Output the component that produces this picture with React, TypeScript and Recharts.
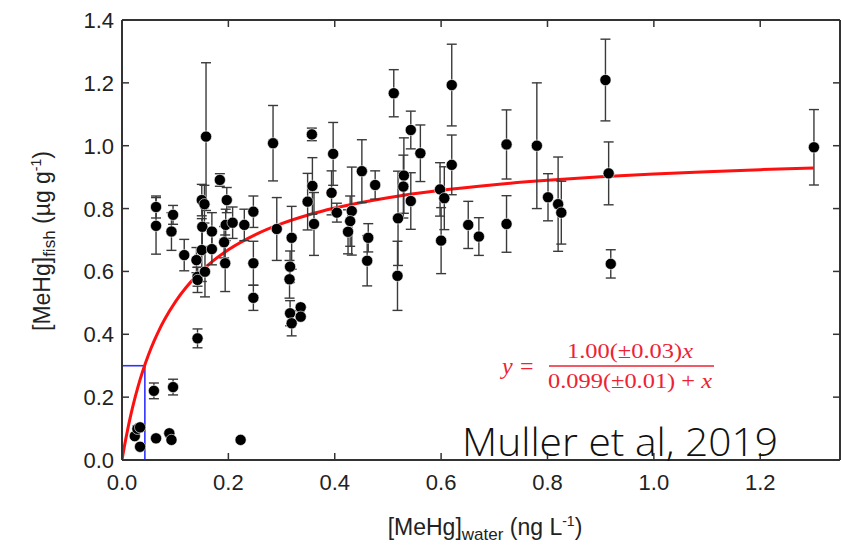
import React from 'react';
import { ComposedChart, Scatter, Line, XAxis, YAxis, ErrorBar, ReferenceLine } from 'recharts';

// [MeHg]water (ng/L)
const waterMeHg = [
  0.024, 0.029, 0.034, 0.034, 0.060, 0.064, 0.089, 0.093, 0.096, 0.223,
  0.064, 0.064, 0.096, 0.093, 0.117, 0.140, 0.142, 0.142, 0.142, 0.150,
  0.155, 0.151, 0.150, 0.156, 0.158, 0.169, 0.169, 0.184, 0.192, 0.194,
  0.197, 0.195, 0.208, 0.230, 0.247, 0.247, 0.247, 0.284, 0.291,
  0.319, 0.316, 0.315, 0.316, 0.319, 0.336, 0.336, 0.349, 0.357, 0.358,
  0.361, 0.397, 0.394, 0.404, 0.432, 0.429, 0.425, 0.451, 0.476, 0.463,
  0.461, 0.511, 0.543, 0.561, 0.530, 0.529, 0.543, 0.519, 0.518, 0.620,
  0.620, 0.598, 0.606, 0.600, 0.651, 0.671, 0.723, 0.723, 0.780, 0.801,
  0.820, 0.826, 0.909, 0.915, 0.919, 1.301,
];
// [MeHg]fish (ug/g)
const fishMeHg = [
  0.076, 0.099, 0.104, 0.042, 0.220, 0.069, 0.085, 0.064, 0.232, 0.064,
  0.805, 0.745, 0.780, 0.727, 0.652, 0.636, 0.583, 0.573, 0.387, 0.827,
  0.814, 0.742, 0.668, 0.599, 1.029, 0.727, 0.671, 0.891, 0.693, 0.626,
  0.827, 0.748, 0.755, 0.748, 0.790, 0.626, 0.516, 1.008, 0.735,
  0.707, 0.615, 0.575, 0.467, 0.435, 0.486, 0.456, 0.822, 1.036, 0.872,
  0.751, 0.974, 0.850, 0.787, 0.792, 0.760, 0.726, 0.919, 0.875, 0.707,
  0.634, 1.167, 1.050, 0.976, 0.905, 0.870, 0.824, 0.769, 0.586, 1.193,
  0.939, 0.861, 0.833, 0.698, 0.748, 0.711, 1.004, 0.751, 1.000, 0.836,
  0.814, 0.787, 1.209, 0.912, 0.624, 0.995,
];
// standard deviation of fish MeHg
const fishErr = [
  0, 0.01, 0.01, 0, 0.025, 0, 0, 0, 0.025, 0,
  0.035, 0.09, 0.03, 0.06, 0.05, 0.04, 0.03, 0.04, 0.03, 0.05,
  0.06, 0.08, 0.1, 0.08, 0.235, 0.06, 0.05, 0.02, 0.05, 0.09,
  0.04, 0.05, 0.05, 0.05, 0.05, 0.07, 0.04, 0.12, 0.1,
  0.1, 0.05, 0.06, 0.04, 0.04, 0, 0, 0.09, 0.02, 0.09,
  0.1, 0.1, 0.07, 0.03, 0.14, 0.08, 0.07, 0.1, 0.045, 0.045,
  0.08, 0.075, 0.06, 0.09, 0.12, 0.1, 0.09, 0.15, 0.11, 0.13,
  0.095, 0.085, 0.1, 0.105, 0.075, 0.06, 0.11, 0.09, 0.2, 0.075,
  0.15, 0.1, 0.13, 0.1, 0.045, 0.12,
];

// fitted Michaelis-Menten curve
const fitWater = [0, 0.005, 0.01, 0.015, 0.02, 0.03, 0.04, 0.05, 0.06, 0.07, 0.08, 0.1, 0.12, 0.14, 0.17, 0.2, 0.25, 0.3, 0.35, 0.4, 0.5, 0.6, 0.7, 0.8, 0.9, 1.0, 1.1, 1.2, 1.3];
const fitFish = [0, 0.0481, 0.0917, 0.1316, 0.168, 0.2326, 0.2878, 0.3356, 0.3774, 0.4142, 0.4469, 0.5025, 0.5479, 0.5858, 0.632, 0.6689, 0.7163, 0.7519, 0.7795, 0.8016, 0.8347, 0.8584, 0.8761, 0.8899, 0.9009, 0.9099, 0.9174, 0.9238, 0.9292];

// blue box marking 0.3 ug/g
const boxCorner = { x: 0.043, y: 0.3 };

const xTicks = [0, 0.2, 0.4, 0.6, 0.8, 1.0, 1.2];
const yTicks = [0, 0.2, 0.4, 0.6, 0.8, 1.0, 1.2, 1.4];

const points = waterMeHg.map((x, i) => ({ x, y: fishMeHg[i], err: fishErr[i] }));
const fit = fitWater.map((x, i) => ({ x, y: fitFish[i] }));

const AX = '#333';
const FONT = "'Liberation Sans', Arial, sans-serif";

const BottomTick = (p: any) => (
  <g>
    <line x1={p.x} x2={p.x} y1={p.y} y2={p.y - 7} stroke={AX} strokeWidth={1.5} />
    <text x={p.x} y={p.y + 30} textAnchor="middle" fontSize={22} fontFamily={FONT} fill="#222">
      {Number(p.payload.value).toFixed(1)}
    </text>
  </g>
);
const TopTick = (p: any) => (
  <line x1={p.x} x2={p.x} y1={p.y} y2={p.y + 7} stroke={AX} strokeWidth={1.5} />
);
const LeftTick = (p: any) => (
  <g>
    <line x1={p.x} x2={p.x + 7} y1={p.y} y2={p.y} stroke={AX} strokeWidth={1.5} />
    <text x={p.x - 8} y={p.y + 8} textAnchor="end" fontSize={22} fontFamily={FONT} fill="#222">
      {Number(p.payload.value).toFixed(1)}
    </text>
  </g>
);
const RightTick = (p: any) => (
  <line x1={p.x} x2={p.x - 7} y1={p.y} y2={p.y} stroke={AX} strokeWidth={1.5} />
);

const Dot = (p: any) => (
  <circle cx={p.cx} cy={p.cy} r={5.6} fill="#000" stroke="#fff" strokeWidth={0.6} />
);

const RED = '#ee2233';
const SERIF = "'Liberation Serif', 'DejaVu Serif', serif";

export default function App() {
  const axisLine = { stroke: AX, strokeWidth: 2 };
  return (
    <div style={{ position: 'absolute', left: 0, top: 0, width: 842, height: 547, background: '#fff' }}>
      <ComposedChart width={842} height={547} margin={{ top: 19, right: 1, bottom: 86, left: 121 }}>
        <XAxis xAxisId="b" dataKey="x" type="number" domain={[0, 1.35]} ticks={xTicks} orientation="bottom"
          height={1} tickSize={0} tickMargin={0} tickLine={false} axisLine={axisLine} tick={<BottomTick />} allowDataOverflow />
        <XAxis xAxisId="t" dataKey="x" type="number" domain={[0, 1.35]} ticks={xTicks} orientation="top"
          height={1} tickSize={0} tickMargin={0} tickLine={false} axisLine={axisLine} tick={<TopTick />} allowDataOverflow />
        <YAxis yAxisId="l" dataKey="y" type="number" domain={[0, 1.4]} ticks={yTicks} orientation="left"
          width={1} tickSize={0} tickMargin={0} tickLine={false} axisLine={axisLine} tick={<LeftTick />} allowDataOverflow />
        <YAxis yAxisId="r" dataKey="y" type="number" domain={[0, 1.4]} ticks={yTicks} orientation="right"
          width={1} tickSize={0} tickMargin={0} tickLine={false} axisLine={axisLine} tick={<RightTick />} allowDataOverflow />
        <ReferenceLine xAxisId="b" yAxisId="l" segment={[{ x: 0, y: boxCorner.y }, { x: boxCorner.x, y: boxCorner.y }]} stroke="#3030ff" strokeWidth={1.6} />
        <ReferenceLine xAxisId="b" yAxisId="l" segment={[{ x: boxCorner.x, y: 0 }, { x: boxCorner.x, y: boxCorner.y }]} stroke="#3030ff" strokeWidth={1.6} />
        <Line xAxisId="b" yAxisId="l" data={fit} dataKey="y" type="monotone" dot={false} stroke="#ff1010" strokeWidth={3} isAnimationActive={false} />
        <Scatter xAxisId="b" yAxisId="l" data={points} dataKey="y" shape={<Dot />} isAnimationActive={false}>
          <ErrorBar dataKey="err" direction="y" width={5} stroke="#3a3a3a" strokeWidth={1.4} />
        </Scatter>
      </ComposedChart>
      <svg width={842} height={547} style={{ position: 'absolute', left: 0, top: 0, pointerEvents: 'none' }}>
        <text transform="translate(50,241) rotate(-90)" textAnchor="middle" fontFamily={FONT} fontSize={23} fill="#222">
          [MeHg]<tspan fontSize={17} dy={5}>fish</tspan><tspan dy={-5}> (µg g</tspan><tspan fontSize={14} dy={-9}>-1</tspan><tspan dy={9}>)</tspan>
        </text>
        <text x={485} y={535} textAnchor="middle" fontFamily={FONT} fontSize={23} fill="#222">
          [MeHg]<tspan fontSize={17} dy={5}>water</tspan><tspan dy={-5}> (ng L</tspan><tspan fontSize={14} dy={-9}>-1</tspan><tspan dy={9}>)</tspan>
        </text>
        <text x={502} y={374} fontFamily={SERIF} fontSize={24} fill={RED} fontStyle="italic">y</text>
        <text x={520} y={374} fontFamily={SERIF} fontSize={24} fill={RED}>=</text>
        <text x={567} y={358} fontFamily={SERIF} fontSize={20} fill={RED} textLength={126} lengthAdjust="spacingAndGlyphs">
          1.00(±0.03)<tspan fontStyle="italic">x</tspan>
        </text>
        <line x1={549} x2={714} y1={366} y2={366} stroke={RED} strokeWidth={1.3} />
        <text x={548} y={388} fontFamily={SERIF} fontSize={20} fill={RED} textLength={164} lengthAdjust="spacingAndGlyphs">
          0.099(±0.01) + <tspan fontStyle="italic">x</tspan>
        </text>
        <text x={462} y={456} fontFamily="'Open Sans', 'DejaVu Sans', sans-serif" fontWeight={300} fontSize={38} fill="#111" textLength={316} lengthAdjust="spacingAndGlyphs">
          Muller et al, 2019
        </text>
      </svg>
    </div>
  );
}
